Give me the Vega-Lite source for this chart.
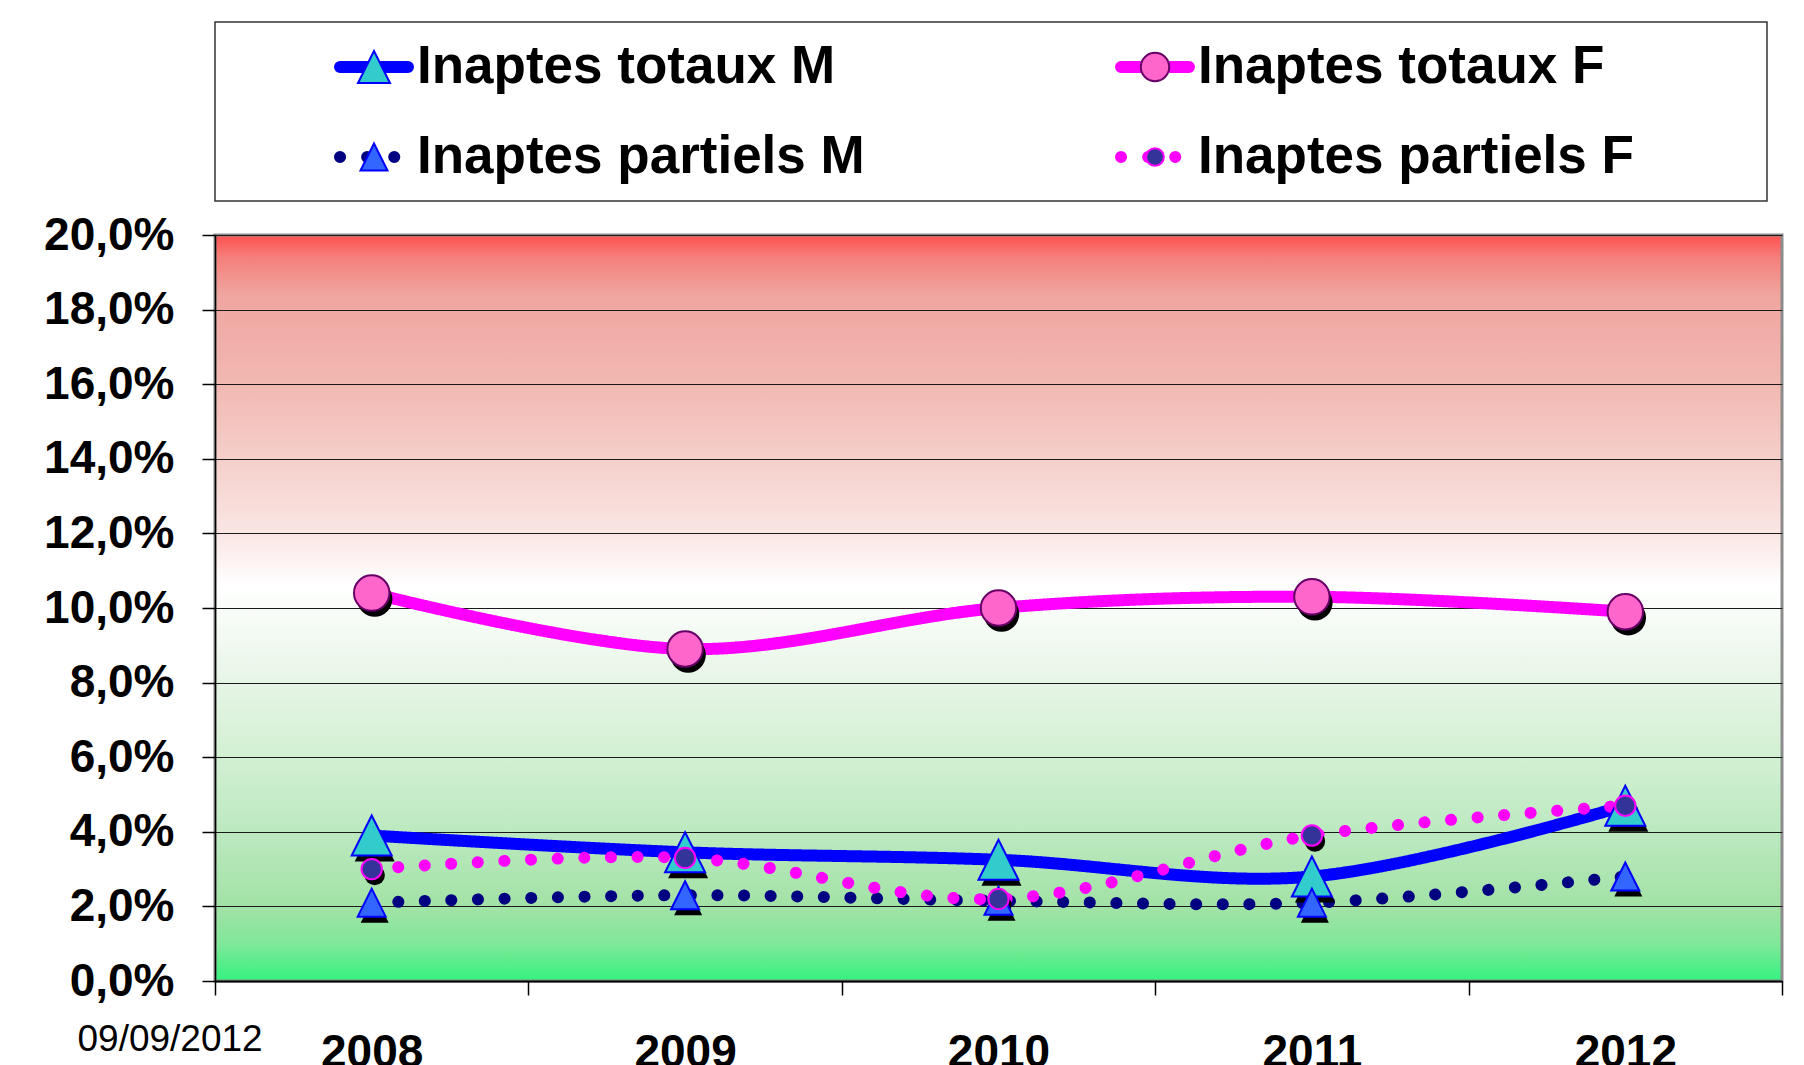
{
  "$schema": "https://vega.github.io/schema/vega-lite/v6.json",
  "background": "white",
  "padding": {"left": 42, "top": 21, "right": 5, "bottom": 0},
  "bounds": "flush",
  "spacing": 34,
  "config": {"font": "Liberation Sans", "legend": {"disable": true}},
  "resolve": {"scale": {"size": "independent", "color": "independent", "fill": "independent", "stroke": "independent", "shape": "independent", "strokeDash": "independent", "x": "independent", "y": "independent"}},
  "datasets": {
    "taux": [
      {"annee": "2008", "serie": "Inaptes totaux M", "type": "totaux", "sexe": "M", "taux": 0.039},
      {"annee": "2009", "serie": "Inaptes totaux M", "type": "totaux", "sexe": "M", "taux": 0.0345},
      {"annee": "2010", "serie": "Inaptes totaux M", "type": "totaux", "sexe": "M", "taux": 0.0325},
      {"annee": "2011", "serie": "Inaptes totaux M", "type": "totaux", "sexe": "M", "taux": 0.028},
      {"annee": "2012", "serie": "Inaptes totaux M", "type": "totaux", "sexe": "M", "taux": 0.047},
      {"annee": "2008", "serie": "Inaptes totaux F", "type": "totaux", "sexe": "F", "taux": 0.104},
      {"annee": "2009", "serie": "Inaptes totaux F", "type": "totaux", "sexe": "F", "taux": 0.089},
      {"annee": "2010", "serie": "Inaptes totaux F", "type": "totaux", "sexe": "F", "taux": 0.1},
      {"annee": "2011", "serie": "Inaptes totaux F", "type": "totaux", "sexe": "F", "taux": 0.103},
      {"annee": "2012", "serie": "Inaptes totaux F", "type": "totaux", "sexe": "F", "taux": 0.099},
      {"annee": "2008", "serie": "Inaptes partiels M", "type": "partiels", "sexe": "M", "taux": 0.021},
      {"annee": "2009", "serie": "Inaptes partiels M", "type": "partiels", "sexe": "M", "taux": 0.023},
      {"annee": "2010", "serie": "Inaptes partiels M", "type": "partiels", "sexe": "M", "taux": 0.0215},
      {"annee": "2011", "serie": "Inaptes partiels M", "type": "partiels", "sexe": "M", "taux": 0.021},
      {"annee": "2012", "serie": "Inaptes partiels M", "type": "partiels", "sexe": "M", "taux": 0.028},
      {"annee": "2008", "serie": "Inaptes partiels F", "type": "partiels", "sexe": "F", "taux": 0.03},
      {"annee": "2009", "serie": "Inaptes partiels F", "type": "partiels", "sexe": "F", "taux": 0.033},
      {"annee": "2010", "serie": "Inaptes partiels F", "type": "partiels", "sexe": "F", "taux": 0.022},
      {"annee": "2011", "serie": "Inaptes partiels F", "type": "partiels", "sexe": "F", "taux": 0.039},
      {"annee": "2012", "serie": "Inaptes partiels F", "type": "partiels", "sexe": "F", "taux": 0.047}
    ]
  },
  "vconcat": [
    {
      "width": 1552,
      "height": 179,
      "view": {"stroke": "#333333", "strokeWidth": 1.5, "fill": "white"},
      "data": {"name": "taux"},
      "transform": [{"aggregate": [{"op": "count", "as": "n"}], "groupby": ["serie", "type", "sexe"]}],
      "encoding": {
        "x": {"field": "sexe", "type": "nominal", "scale": {"type": "point", "domain": ["M", "F"], "range": [159, 940], "padding": 0}, "axis": null},
        "y": {"field": "type", "type": "nominal", "scale": {"type": "point", "domain": ["totaux", "partiels"], "range": [45, 135], "padding": 0}, "axis": null}
      },
      "layer": [
        {
          "mark": {"type": "point", "shape": "M-1,0L1,0", "size": 4624, "filled": false, "strokeWidth": 12, "strokeCap": "round", "opacity": 1},
          "encoding": {
            "color": {"field": "serie", "type": "nominal", "scale": {"domain": ["Inaptes totaux M", "Inaptes totaux F", "Inaptes partiels M", "Inaptes partiels F"], "range": ["#0000FF", "#FF00FF", "#000080", "#FF00FF"]}, "legend": null},
            "strokeDash": {"field": "serie", "type": "nominal", "scale": {"domain": ["Inaptes totaux M", "Inaptes totaux F", "Inaptes partiels M", "Inaptes partiels F"], "range": [[1, 0], [1, 0], [0.1, 27], [0.1, 27]]}, "legend": null}
          }
        },
        {
          "mark": {"type": "point", "filled": true, "strokeWidth": 2, "opacity": 1},
          "encoding": {
            "shape": {"field": "serie", "type": "nominal", "scale": {"domain": ["Inaptes totaux M", "Inaptes totaux F", "Inaptes partiels M", "Inaptes partiels F"], "range": ["M0,-1L-1,1L1,1Z", "circle", "M0,-1L-1,1L1,1Z", "circle"]}, "legend": null},
            "size": {"field": "serie", "type": "nominal", "scale": {"type": "ordinal", "domain": ["Inaptes totaux M", "Inaptes totaux F", "Inaptes partiels M", "Inaptes partiels F"], "range": [1024, 804, 729, 314]}, "legend": null},
            "fill": {"field": "serie", "type": "nominal", "scale": {"domain": ["Inaptes totaux M", "Inaptes totaux F", "Inaptes partiels M", "Inaptes partiels F"], "range": ["#33CCCC", "#FF66CC", "#3366FF", "#333399"]}, "legend": null},
            "stroke": {"field": "serie", "type": "nominal", "scale": {"domain": ["Inaptes totaux M", "Inaptes totaux F", "Inaptes partiels M", "Inaptes partiels F"], "range": ["#0000FF", "#660066", "#0000FF", "#FF00FF"]}, "legend": null}
          }
        },
        {
          "mark": {"type": "text", "align": "left", "baseline": "middle", "dx": 43, "fontSize": 53, "fontWeight": "bold", "color": "black"},
          "encoding": {"text": {"field": "serie", "type": "nominal"}}
        }
      ]
    },
    {
      "width": 1567,
      "height": 746,
      "view": {
        "stroke": "#8c8c8c",
        "strokeWidth": 3,
        "fill": {
          "gradient": "linear", "x1": 0, "y1": 0, "x2": 0, "y2": 1,
          "stops": [
            {"offset": 0, "color": "#FF5050"},
            {"offset": 0.03, "color": "#F57F7A"},
            {"offset": 0.08, "color": "#F0A5A0"},
            {"offset": 0.2, "color": "#F2B8B2"},
            {"offset": 0.3, "color": "#F5CFCA"},
            {"offset": 0.4, "color": "#FAE6E4"},
            {"offset": 0.47, "color": "#FFFFFF"},
            {"offset": 0.55, "color": "#F0F9F0"},
            {"offset": 0.6, "color": "#E6F5E6"},
            {"offset": 0.7, "color": "#D2F0D2"},
            {"offset": 0.8, "color": "#BCE9C0"},
            {"offset": 0.9, "color": "#A2E2A6"},
            {"offset": 0.95, "color": "#80E899"},
            {"offset": 1, "color": "#33F27F"}
          ]
        }
      },
      "data": {"name": "taux"},
      "encoding": {
        "x": {
          "field": "annee", "type": "ordinal", "bandPosition": 0.5,
          "scale": {"type": "band", "paddingInner": 0, "paddingOuter": 0},
          "axis": {
            "title": "09/09/2012", "titleFontSize": 37, "titleFontWeight": "normal", "titleColor": "black",
            "titleX": -138, "titleY": 58, "titleAlign": "left", "titleBaseline": "middle",
            "tickBand": "extent", "tickSize": 14, "tickWidth": 1.5, "tickColor": "black",
            "domainColor": "black", "domainWidth": 2,
            "labelFontSize": 46, "labelFontWeight": "bold", "labelColor": "black", "labelPadding": 35, "labelAngle": 0,
            "grid": false
          }
        },
        "y": {
          "field": "taux", "type": "quantitative",
          "scale": {"domain": [0, 0.2], "nice": false},
          "axis": {
            "values": [0, 0.02, 0.04, 0.06, 0.08, 0.1, 0.12, 0.14, 0.16, 0.18, 0.2],
            "labelExpr": "replace(format(datum.value, '.1%'), '.', ',')",
            "title": null,
            "tickSize": 13, "tickWidth": 1.5, "tickColor": "black",
            "domainColor": "black", "domainWidth": 1.5,
            "grid": true, "gridColor": "#1a1a1a", "gridWidth": 1.2,
            "labelFontSize": 46, "labelFontWeight": "bold", "labelColor": "black", "labelPadding": 28
          }
        }
      },
      "layer": [
        {
          "mark": {"type": "line", "interpolate": "cardinal", "strokeWidth": 12, "strokeCap": "round", "strokeJoin": "round"},
          "encoding": {
            "color": {"field": "serie", "type": "nominal", "scale": {"domain": ["Inaptes totaux M", "Inaptes totaux F", "Inaptes partiels M", "Inaptes partiels F"], "range": ["#0000FF", "#FF00FF", "#000080", "#FF00FF"]}, "legend": null},
            "strokeDash": {"field": "serie", "type": "nominal", "scale": {"domain": ["Inaptes totaux M", "Inaptes totaux F", "Inaptes partiels M", "Inaptes partiels F"], "range": [[1, 0], [1, 0], [0.1, 26.5], [0.1, 26.5]]}, "legend": null}
          }
        },
        {
          "mark": {"type": "point", "filled": true, "opacity": 1, "color": "black", "xOffset": 3, "yOffset": 6},
          "encoding": {
            "shape": {"field": "serie", "type": "nominal", "scale": {"domain": ["Inaptes totaux M", "Inaptes totaux F", "Inaptes partiels M", "Inaptes partiels F"], "range": ["M0,-1L-1,1L1,1Z", "circle", "M0,-1L-1,1L1,1Z", "circle"]}, "legend": null},
            "size": {"field": "serie", "type": "nominal", "scale": {"type": "ordinal", "domain": ["Inaptes totaux M", "Inaptes totaux F", "Inaptes partiels M", "Inaptes partiels F"], "range": [1600, 1257, 784, 415]}, "legend": null}
          }
        },
        {
          "mark": {"type": "point", "filled": true, "opacity": 1, "strokeWidth": 2},
          "encoding": {
            "shape": {"field": "serie", "type": "nominal", "scale": {"domain": ["Inaptes totaux M", "Inaptes totaux F", "Inaptes partiels M", "Inaptes partiels F"], "range": ["M0,-1L-1,1L1,1Z", "circle", "M0,-1L-1,1L1,1Z", "circle"]}, "legend": null},
            "size": {"field": "serie", "type": "nominal", "scale": {"type": "ordinal", "domain": ["Inaptes totaux M", "Inaptes totaux F", "Inaptes partiels M", "Inaptes partiels F"], "range": [1600, 1257, 784, 415]}, "legend": null},
            "fill": {"field": "serie", "type": "nominal", "scale": {"domain": ["Inaptes totaux M", "Inaptes totaux F", "Inaptes partiels M", "Inaptes partiels F"], "range": ["#33CCCC", "#FF66CC", "#3366FF", "#333399"]}, "legend": null},
            "stroke": {"field": "serie", "type": "nominal", "scale": {"domain": ["Inaptes totaux M", "Inaptes totaux F", "Inaptes partiels M", "Inaptes partiels F"], "range": ["#0000FF", "#660066", "#0000FF", "#FF00FF"]}, "legend": null}
          }
        }
      ]
    }
  ]
}
